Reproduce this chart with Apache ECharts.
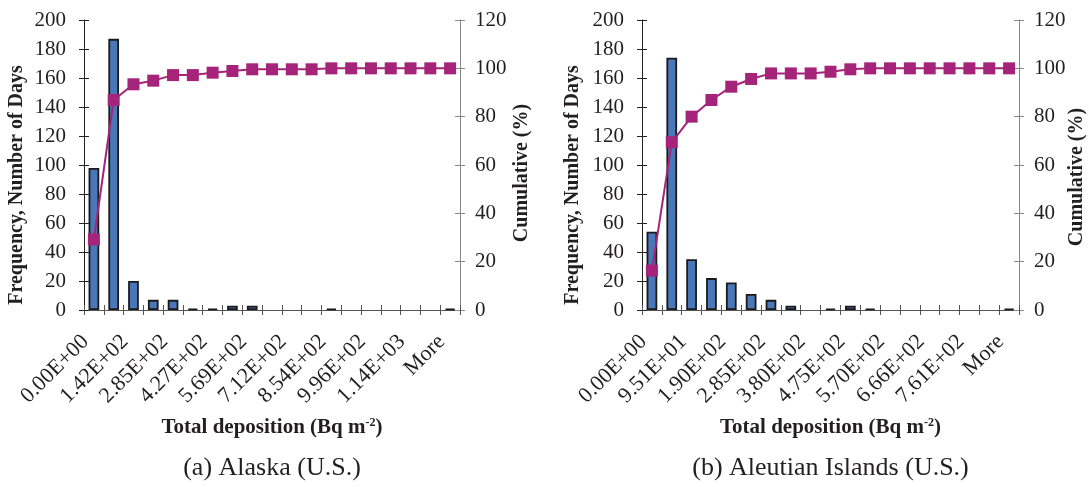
<!DOCTYPE html>
<html><head><meta charset="utf-8">
<script src="https://cdn.jsdelivr.net/npm/echarts@6/dist/echarts.min.js"></script>
<style>html,body{margin:0;padding:0;background:#fff}#c{width:1089px;height:487px}</style>
</head><body><div id="c"></div>
<script>
// ---- data ----
const catsA = ['0.00E+00','7.12E+01','1.42E+02','2.14E+02','2.85E+02','3.56E+02','4.27E+02','4.98E+02','5.69E+02','6.41E+02','7.12E+02','7.83E+02','8.54E+02','9.25E+02','9.96E+02','1.07E+03','1.14E+03','1.21E+03','More'];
const freqA = [98,187,20,7,7,1,1,3,3,0,0,0,1,0,0,0,0,0,1];
const cumA  = [29.2,86.9,93.4,94.9,97.2,97.2,98.2,98.9,99.6,99.6,99.6,99.6,100,100,100,100,100,100,100];
const catsB = ['0.00E+00','4.75E+01','9.51E+01','1.43E+02','1.90E+02','2.38E+02','2.85E+02','3.33E+02','3.80E+02','4.28E+02','4.75E+02','5.23E+02','5.70E+02','6.18E+02','6.66E+02','7.13E+02','7.61E+02','8.08E+02','More'];
const freqB = [54,174,35,22,19,11,7,3,0,1,3,1,0,0,0,0,0,0,1];
const cumB  = [16.3,69.4,80.0,86.9,92.4,95.6,97.9,97.9,97.9,98.6,99.6,100,100,100,100,100,100,100,100];
const leftTicks = {min:0, max:200, interval:20};
const rightTicks = {min:0, max:120, interval:20};
const xName = 'Total deposition (Bq m';
const yNameL = 'Frequency, Number of Days';
const yNameR = 'Cumulative (%)';
const titles = ['(a) Alaska (U.S.)', '(b) Aleutian Islands (U.S.)'];

// ---- layout ----
const FONT = '"Liberation Serif","Times New Roman",serif';
const TXT = '#231f20';
const grids = [
  {left:84, top:20, width:376, height:290},
  {left:642, top:20, width:377, height:290}
];
const panels = [{cats:catsA, freq:freqA, cum:cumA}, {cats:catsB, freq:freqB, cum:cumB}];

const option = {
  animation:false,
  backgroundColor:'#fff',
  grid: grids.map(g => ({...g, containLabel:false})),
  xAxis: [], yAxis: [], series: [], graphic: []
};

panels.forEach((p, g) => {
  option.xAxis.push({
    type:'category', gridIndex:g, data:p.cats, position:'bottom', boundaryGap:true,
    axisLine:{show:true, lineStyle:{color:'#555', width:1}},
    axisTick:{show:true, inside:false, length:5, interval:0, lineStyle:{color:'#555'}},
    axisLabel:{interval:1, rotate:45, margin:20, padding:[0,12,0,0], fontFamily:FONT, fontSize:22, color:TXT},
    splitLine:{show:false}
  });
  option.xAxis.push({
    type:'category', gridIndex:g, data:p.cats, position:'bottom', boundaryGap:true,
    axisLine:{show:false},
    axisTick:{show:true, inside:true, length:5, interval:0, lineStyle:{color:'#555'}},
    axisLabel:{show:false}, splitLine:{show:false}
  });
  option.yAxis.push({
    type:'value', gridIndex:g, position:'left', ...leftTicks,
    axisLine:{show:true, lineStyle:{color:'#222'}},
    axisTick:{show:true, inside:false, length:5, lineStyle:{color:'#222'}},
    axisLabel:{margin:18, fontFamily:FONT, fontSize:21, color:TXT},
    splitLine:{show:false}
  });
  option.yAxis.push({
    type:'value', gridIndex:g, position:'left', ...leftTicks,
    axisLine:{show:false},
    axisTick:{show:true, inside:true, length:5, lineStyle:{color:'#222'}},
    axisLabel:{show:false}, splitLine:{show:false}
  });
  option.yAxis.push({
    type:'value', gridIndex:g, position:'right', ...rightTicks,
    axisLine:{show:true, lineStyle:{color:'#888'}},
    axisTick:{show:true, inside:false, length:5, lineStyle:{color:'#888'}},
    axisLabel:{margin:15, fontFamily:FONT, fontSize:21, color:TXT},
    splitLine:{show:false}
  });
  option.yAxis.push({
    type:'value', gridIndex:g, position:'right', ...rightTicks,
    axisLine:{show:false},
    axisTick:{show:true, inside:true, length:5, lineStyle:{color:'#888'}},
    axisLabel:{show:false}, splitLine:{show:false}
  });
  option.series.push({
    type:'bar', xAxisIndex:g*2, yAxisIndex:g*4, barWidth:'54%',
    data:p.freq.map(v => v === 0 ? '-' : v),
    itemStyle:{color:'#4a77b8', borderColor:'#1a1a1a', borderWidth:1.8},
    z:2
  });
  option.series.push({
    type:'line', xAxisIndex:g*2, yAxisIndex:g*4+2,
    data:p.cum, symbol:'rect', symbolSize:12,
    lineStyle:{color:'#a6237a', width:2},
    itemStyle:{color:'#a6237a'},
    z:5
  });
  const gr = grids[g];
  const cx = gr.left + gr.width/2;
  option.graphic.push({
    type:'text', x: g===0 ? 17 : 573, y:185, rotation:Math.PI/2,
    style:{text:yNameL, font:'bold 20px '+FONT, fill:TXT, textAlign:'center', textVerticalAlign:'middle'}
  });
  option.graphic.push({
    type:'text', x: g===0 ? 522 : 1077, y: g===0 ? 173 : 177, rotation:Math.PI/2,
    style:{text:yNameR, font:'bold 20px '+FONT, fill:TXT, textAlign:'center', textVerticalAlign:'middle'}
  });
  option.graphic.push({
    type:'text', x:cx, y:428,
    style:{
      text:'{b|'+xName+'}{s|-2}{b|)}',
      rich:{
        b:{fontFamily:FONT, fontWeight:'bold', fontSize:21, fill:TXT, color:TXT},
        s:{fontFamily:FONT, fontWeight:'bold', fontSize:12, fill:TXT, color:TXT, padding:[0,0,10,0]}
      },
      textAlign:'center', textVerticalAlign:'middle'
    }
  });
  option.graphic.push({
    type:'text', x:cx, y:468,
    style:{text:titles[g], font:'26px '+FONT, fill:TXT, textAlign:'center', textVerticalAlign:'middle'}
  });
});

const chart = echarts.init(document.getElementById('c'), null, {renderer:'canvas'});
chart.setOption(option);
</script>
</body></html>
